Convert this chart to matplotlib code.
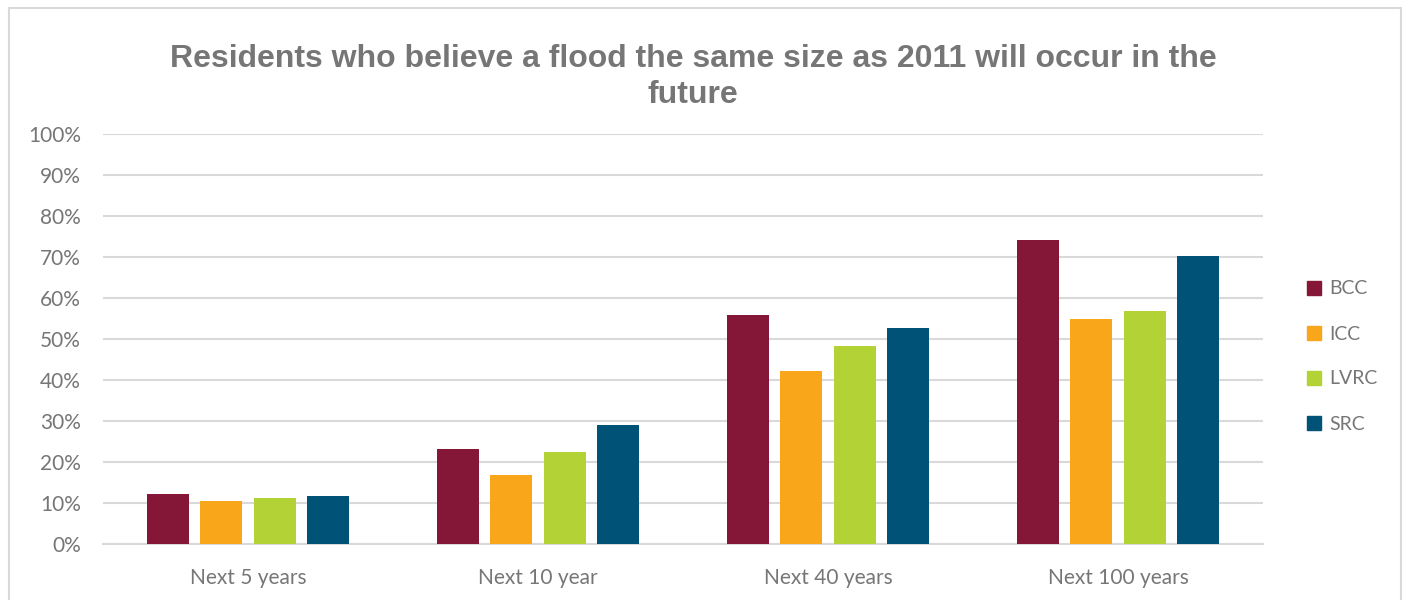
import matplotlib.pyplot as plt
import matplotlib.patches as mpatches
import numpy as np

categories = ["Next 5 years", "Next 10 year", "Next 40 years", "Next 100 years"]
series_names = ["BCC", "ICC", "LVRC", "SRC"]
bcc = [12.2, 23.2, 55.9, 74.2]
icc = [10.5, 16.9, 42.3, 54.9]
lvrc = [11.2, 22.5, 48.4, 56.9]
src = [11.7, 29.1, 52.8, 70.3]
series_values = [bcc, icc, lvrc, src]
colors = ["#841738", "#F9A61B", "#B2D235", "#005377"]
y_ticks = list(range(0, 101, 10))
y_tick_labels = [f"{t}%" for t in y_ticks]

text_color = "#767676"
grid_color = "#D9D9D9"
font = "Lato"

W, H = 1407, 600
fig = plt.figure(figsize=(W / 100, H / 100), dpi=100)
fig.patch.set_facecolor("white")

# outer chart border
fig.patches.append(mpatches.Rectangle((9 / W, -0.05), (1401 - 9) / W, 1.05 - 7.5 / H,
                                      transform=fig.transFigure, fill=False,
                                      edgecolor="#D9D9D9", linewidth=1.5))

ax = fig.add_axes([103 / W, (H - 544) / H, 1160 / W, 410 / H])
x = np.arange(len(categories))
bar_w = 0.145
step = 0.183
offsets = (np.arange(len(series_names)) - 1.5) * step
for name, vals, c, off in zip(series_names, series_values, colors, offsets):
    ax.bar(x + off, vals, width=bar_w, color=c, label=name, zorder=3)

ax.set_xlim(-0.5, len(categories) - 0.5)
ax.set_ylim(0, 100)
ax.set_yticks(y_ticks)
ax.set_yticklabels(y_tick_labels, fontsize=15, color=text_color, family=font)
ax.set_xticks(x)
ax.set_xticklabels(categories, fontsize=15, color=text_color, family=font)
ax.tick_params(axis="both", length=0)
ax.tick_params(axis="y", pad=16)
ax.tick_params(axis="x", pad=17)
ax.grid(axis="y", color=grid_color, linewidth=1.5, zorder=0)
for s in ["top", "right", "left"]:
    ax.spines[s].set_visible(False)
ax.spines["bottom"].set_color(grid_color)
ax.spines["bottom"].set_linewidth(1.5)

fig.text(693 / W, 1 - 77 / H, "Residents who believe a flood the same size as 2011 will occur in the\nfuture",
         ha="center", va="center", fontsize=23, fontweight="bold", color=text_color,
         family="Liberation Sans", linespacing=1.25)

handles = [mpatches.Patch(color=c) for c in colors]
leg = fig.legend(handles, series_names, loc="upper left",
                 bbox_to_anchor=(1289 / W, 1 - 263 / H), frameon=False,
                 handlelength=0.72, handleheight=0.72, handletextpad=0.45,
                 labelspacing=1.44, prop={"family": font, "size": 14})
for t in leg.get_texts():
    t.set_color(text_color)

fig.savefig("out.png", dpi=100, facecolor="white")
